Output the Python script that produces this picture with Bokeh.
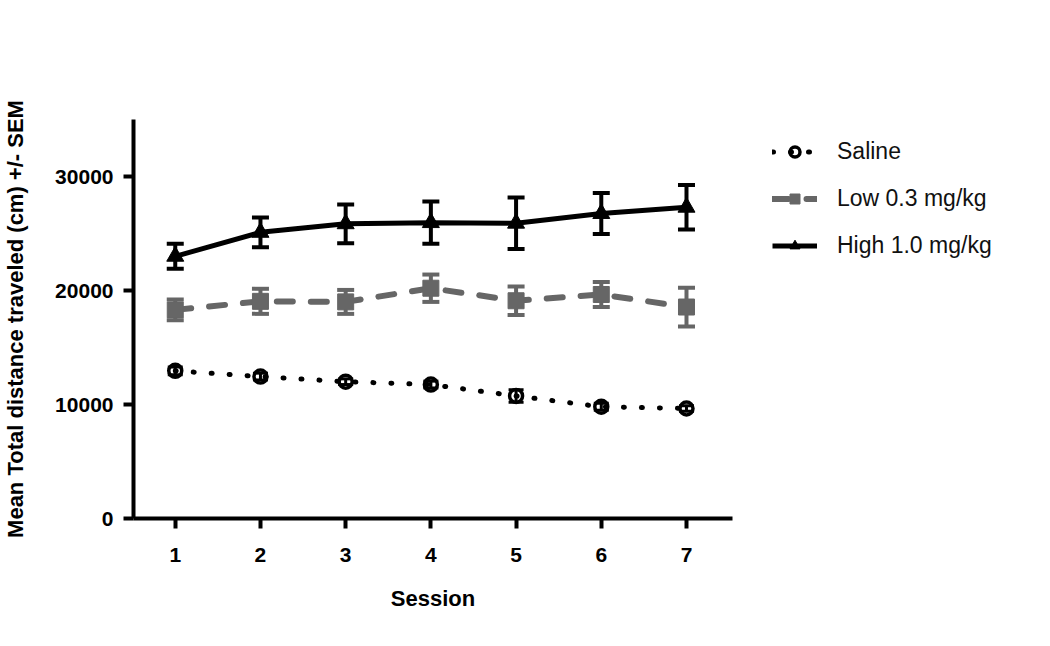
from bokeh.plotting import figure
from bokeh.models import (ColumnDataSource, Whisker, TeeHead, Legend, LegendItem,
                          Range1d, FixedTicker)
from bokeh.embed import file_html
from bokeh.resources import INLINE

sessions = [1, 2, 3, 4, 5, 6, 7]

saline_mean = [12950, 12450, 12000, 11750, 10750, 9800, 9650]
saline_sem = [350, 300, 250, 300, 550, 300, 250]

low_mean = [18300, 19050, 19000, 20200, 19100, 19650, 18550]
low_sem = [900, 1100, 1050, 1200, 1250, 1100, 1700]

high_mean = [23000, 25100, 25850, 25950, 25900, 26750, 27300]
high_sem = [1100, 1300, 1700, 1850, 2250, 1800, 1950]

y_ticks = [0, 10000, 20000, 30000]
x_label = "Session"
y_label = "Mean Total distance traveled (cm) +/- SEM"
series_names = ["Saline", "Low 0.3 mg/kg", "High 1.0 mg/kg"]

FONT = "Liberation Sans"
GRAY = "#666666"

p = figure(frame_width=599, frame_height=399, output_backend="svg", toolbar_location=None,
           x_range=Range1d(0.51, 7.54), y_range=Range1d(0, 35000),
           min_border_left=123, min_border_right=302, min_border_top=119,
           min_border_bottom=104)
p.outline_line_color = None
p.grid.visible = False
p.background_fill_color = "white"
p.border_fill_color = "white"

for ax in (p.xaxis[0], p.yaxis[0]):
    ax.axis_line_width = 4
    ax.axis_line_color = "black"
    ax.major_tick_line_width = 4
    ax.major_tick_line_color = "black"
    ax.major_tick_out = 10
    ax.major_tick_in = 0
    ax.minor_tick_line_color = None
    ax.major_label_text_font = FONT
    ax.major_label_text_font_style = "bold"
    ax.major_label_text_font_size = "21px"
    ax.major_label_text_color = "black"
    ax.axis_label_text_font = FONT
    ax.axis_label_text_font_style = "bold"
    ax.axis_label_text_font_size = "22px"
    ax.axis_label_text_color = "black"

p.xaxis.ticker = FixedTicker(ticks=sessions)
p.yaxis.ticker = FixedTicker(ticks=y_ticks)
p.xaxis.axis_label = x_label
p.yaxis.axis_label = y_label
p.xaxis.major_label_standoff = 19
p.xaxis.axis_label_standoff = 21
p.yaxis.major_label_standoff = 10
p.yaxis.axis_label_standoff = 24


def add_errors(mean, sem, color, width, head):
    src = ColumnDataSource(dict(x=sessions,
                                upper=[m + s for m, s in zip(mean, sem)],
                                lower=[m - s for m, s in zip(mean, sem)]))
    w = Whisker(base="x", upper="upper", lower="lower", source=src,
                line_color=color, line_width=width,
                upper_head=TeeHead(size=head, line_color=color, line_width=width),
                lower_head=TeeHead(size=head, line_color=color, line_width=width))
    p.add_layout(w)


add_errors(high_mean, high_sem, "black", 4, 17)
add_errors(low_mean, low_sem, GRAY, 4, 17)
add_errors(saline_mean, saline_sem, "black", 3, 15)

# Saline
r_sal_line = p.line(sessions, saline_mean, line_color="black", line_width=5,
                    line_dash="1 17", line_cap="round")
r_sal_pts = p.scatter(sessions, saline_mean, marker="circle", size=13,
                      line_color="black", line_width=3.5, fill_color=None)
# Low
r_low_line = p.line(sessions, low_mean, line_color=GRAY, line_width=6,
                    line_dash="16 18", line_cap="round")
r_low_pts = p.scatter(sessions, low_mean, marker="square", size=16,
                      line_color=GRAY, fill_color=GRAY)
# High
r_high_line = p.line(sessions, high_mean, line_color="black", line_width=5)
r_high_pts = p.scatter(sessions, high_mean, marker="triangle", size=17,
                       line_color="black", fill_color="black")

legend = Legend(items=[
    LegendItem(label=series_names[0], renderers=[r_sal_line, r_sal_pts]),
    LegendItem(label=series_names[1], renderers=[r_low_line, r_low_pts]),
    LegendItem(label=series_names[2], renderers=[r_high_line, r_high_pts]),
], location=(40, 259))
legend.glyph_width = 45
legend.glyph_height = 25
legend.label_height = 25
legend.spacing = 20
legend.padding = 0
legend.margin = 0
legend.label_standoff = 20
legend.label_text_font = FONT
legend.label_text_font_size = "23px"
legend.label_text_color = "#111111"
legend.border_line_color = None
legend.background_fill_alpha = 0
p.add_layout(legend, "right")

open("out.html", "w").write(file_html(p, INLINE))
